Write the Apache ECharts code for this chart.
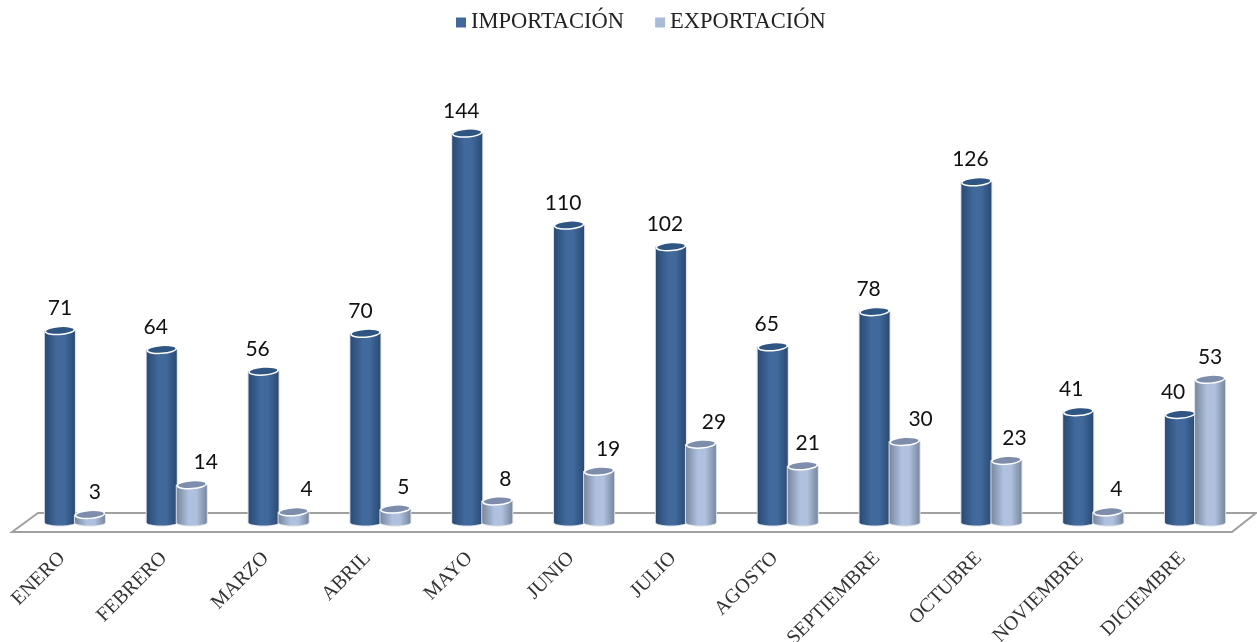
<!DOCTYPE html>
<html>
<head>
<meta charset="utf-8">
<script src="https://cdn.jsdelivr.net/npm/echarts@6/dist/echarts.min.js"></script>
<style>
  html, body { margin: 0; padding: 0; background: #fff; }
  #chart { width: 1257px; height: 642px; }
</style>
</head>
<body>
<div id="chart"></div>
<script>
var months = ['ENERO', 'FEBRERO', 'MARZO', 'ABRIL', 'MAYO', 'JUNIO', 'JULIO', 'AGOSTO', 'SEPTIEMBRE', 'OCTUBRE', 'NOVIEMBRE', 'DICIEMBRE']
var importacion = [71, 64, 56, 70, 144, 110, 102, 65, 78, 126, 41, 40]
var exportacion = [3, 14, 4, 5, 8, 19, 29, 21, 30, 23, 4, 53]

// value labels do not sit centred on their cylinders in the original
var importNudge = [0, -6, -6, -5, -6, -6, -6, -6, -6, -6, -7, -7]
var exportNudge = [5, 14, 13, 8, 8, 9, 13, 5, 16, 8, 8, 0]

var looks = [
  { edge: '#2a4a75', mid: '#41699b', top: '#2f5583', nudge: importNudge, side: -1 },
  { edge: '#78889f', mid: '#b0c1df', top: '#7e8dab', nudge: exportNudge, side: 1 }
]

function cylinder(look) {
  return function(params, api) {
    var idx = api.value(0)
    var band = api.size([1, 0])[0]
    var w = band * 0.295
    var top = api.coord([idx, api.value(1)])
    var base = api.coord([idx, 0])
    var cx = top[0] + look.side * w / 2
    var rx = w / 2
    var ry = 4
    var halo = '#dde1e8'
    var body = new echarts.graphic.LinearGradient(0, 0, 1, 0, [
      { offset: 0, color: look.edge },
      { offset: 0.4, color: look.mid },
      { offset: 0.65, color: look.mid },
      { offset: 1, color: look.edge }
    ])
    return {
      type: 'group',
      children: [
        {
          type: 'rect',
          shape: { x: cx - rx - 1, y: top[1], width: w + 2, height: base[1] - top[1] },
          style: { fill: halo }
        },
        {
          type: 'ellipse',
          shape: { cx: cx, cy: base[1], rx: rx + 1, ry: ry },
          style: { fill: halo }
        },
        {
          type: 'ellipse',
          shape: { cx: cx, cy: base[1], rx: rx, ry: ry - 1 },
          style: { fill: body }
        },
        {
          type: 'rect',
          shape: { x: cx - rx, y: top[1], width: w, height: base[1] - top[1] },
          style: { fill: body }
        },
        {
          type: 'ellipse',
          originX: cx,
          originY: top[1],
          rotation: 0.07,
          shape: { cx: cx, cy: top[1], rx: rx - 0.5, ry: ry },
          style: { fill: look.top, stroke: '#fff', lineWidth: 1.5 }
        },
        {
          type: 'text',
          style: {
            text: String(api.value(1)),
            x: cx + look.nudge[idx],
            y: top[1] - 22,
            align: 'center',
            verticalAlign: 'middle',
            fill: '#111',
            font: '21px Lato'
          }
        }
      ]
    }
  }
}

function pairs(values) {
  return values.map(function(v, i) { return [i, v] })
}

var chart = echarts.init(document.getElementById('chart'))
chart.setOption({
  animation: false,
  backgroundColor: '#fff',
  legend: {
    left: 451,
    top: 6,
    itemWidth: 10,
    itemHeight: 10,
    itemGap: 31,
    icon: 'rect',
    textStyle: { fontFamily: 'Liberation Serif', fontSize: 22.5, color: '#222' },
    data: ['IMPORTACIÓN', 'EXPORTACIÓN']
  },
  grid: { left: 24, right: 11, top: 89.7, bottom: 119.5, outerBoundsMode: 'none' },
  xAxis: {
    type: 'category',
    data: months,
    axisLine: { show: false },
    axisTick: { show: false },
    axisLabel: {
      interval: 0,
      rotate: 45,
      margin: 20,
      padding: [0, 18, 0, 0],
      fontFamily: 'Liberation Serif',
      fontSize: 20,
      color: '#333'
    }
  },
  yAxis: { type: 'value', min: 0, max: 160, show: false },
  graphic: [{
    type: 'polygon',
    z: 0,
    shape: { points: [[12, 532], [38, 513], [1256, 513], [1232, 532]] },
    style: { fill: '#fff', stroke: '#a0a0a0', lineWidth: 2 }
  }],
  series: [
    {
      name: 'IMPORTACIÓN',
      type: 'custom',
      clip: false,
      z: 3,
      itemStyle: { color: '#41699b' },
      encode: { x: 0, y: 1 },
      data: pairs(importacion),
      renderItem: cylinder(looks[0])
    },
    {
      name: 'EXPORTACIÓN',
      type: 'custom',
      clip: false,
      z: 4,
      itemStyle: { color: '#a9bbdb' },
      encode: { x: 0, y: 1 },
      data: pairs(exportacion),
      renderItem: cylinder(looks[1])
    }
  ]
})
</script>
</body>
</html>
